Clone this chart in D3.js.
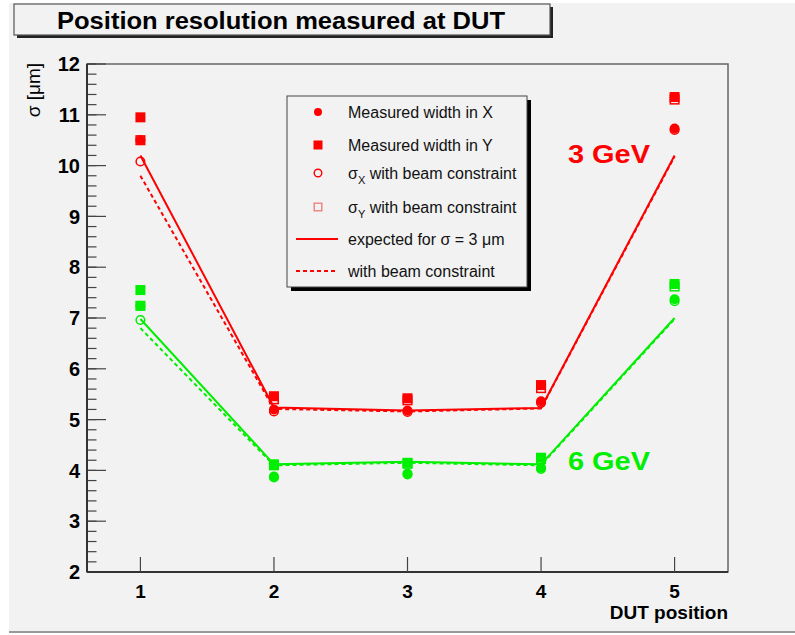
<!DOCTYPE html>
<html><head><meta charset="utf-8">
<script src="https://cdn.jsdelivr.net/npm/d3@7"></script>
<style>body{margin:0;background:#fff}svg{display:block}text{font-family:"Liberation Sans",Arial,sans-serif}</style>
</head><body>
<svg id="c" width="795" height="635"></svg>
<script>
const positions = [1, 2, 3, 4, 5];
const yTicks = [2, 3, 4, 5, 6, 7, 8, 9, 10, 11, 12];
// 3 GeV (red)
const red_measX = [10.5, 5.2, 5.18, 5.36, 10.73];
const red_measY = [10.95, 5.46, 5.42, 5.68, 11.35];
const red_beamX = [10.08, 5.16, 5.15, 5.33, 10.7];
const red_beamY = [10.5, 5.4, 5.38, 5.62, 11.3];
const red_expected = [10.2, 5.24, 5.18, 5.23, 10.2];
const red_expectedBeam = [9.8, 5.21, 5.16, 5.22, 10.18];
// 6 GeV (green)
const green_measX = [7.24, 3.88, 3.94, 4.05, 7.37];
const green_measY = [7.55, 4.12, 4.15, 4.25, 7.67];
const green_beamX = [6.96, 3.86, 3.92, 4.03, 7.33];
const green_beamY = [7.24, 4.1, 4.13, 4.22, 7.62];
const green_expected = [6.98, 4.12, 4.17, 4.12, 7.0];
const green_expectedBeam = [6.8, 4.1, 4.15, 4.1, 6.98];

const RED = "#ff0000", GREEN = "#00ee00";
const svg = d3.select("#c");
const bg = "#f2f2f2";
// canvas
svg.append("rect").attr("x", 9).attr("y", 3).attr("width", 786).attr("height", 629).attr("fill", bg);
svg.append("line").attr("x1", 9).attr("x2", 795).attr("y1", 632).attr("y2", 632).attr("stroke", "#999").attr("stroke-width", 2);

const x = d3.scaleLinear().domain([0.6, 5.4]).range([87, 728]);
const y = d3.scaleLinear().domain([2, 12]).range([572, 64]);

// frame
svg.append("rect").attr("x", x.range()[0]).attr("y", y.range()[1])
  .attr("width", x.range()[1] - x.range()[0]).attr("height", y.range()[0] - y.range()[1])
  .attr("fill", "none").attr("stroke", "#666").attr("stroke-width", 1.5);

// y axis
const gy = svg.append("g").attr("transform", `translate(${x.range()[0]},0)`);
const minor = d3.range(2, 12.001, 0.2);
gy.selectAll("line.mn").data(minor).join("line").attr("class", "mn")
  .attr("x1", 0).attr("x2", 9.5).attr("y1", d => y(d)).attr("y2", d => y(d))
  .attr("stroke", "#444").attr("stroke-width", 1.2);
gy.selectAll("line.mj").data(yTicks).join("line").attr("class", "mj")
  .attr("x1", 0).attr("x2", 19).attr("y1", d => y(d)).attr("y2", d => y(d))
  .attr("stroke", "#444").attr("stroke-width", 1.2);
gy.append("line").attr("x1", 0).attr("x2", 0).attr("y1", y.range()[0]).attr("y2", y.range()[1]).attr("stroke", "#333").attr("stroke-width", 2);
gy.selectAll("text").data(yTicks).join("text")
  .attr("x", -7).attr("y", d => y(d)).attr("dy", "0.36em").attr("text-anchor", "end")
  .attr("font-weight", "bold").attr("font-size", 20).text(d => d);

// x axis
const gx = svg.append("g").attr("transform", `translate(0,${y.range()[0]})`);
gx.append("line").attr("x1", x.range()[0]).attr("x2", x.range()[1]).attr("y1", 0).attr("y2", 0).attr("stroke", "#333").attr("stroke-width", 2);
gx.selectAll("line.t").data(positions).join("line").attr("class", "t")
  .attr("x1", d => x(d)).attr("x2", d => x(d)).attr("y1", 0).attr("y2", -15)
  .attr("stroke", "#444").attr("stroke-width", 1.2);
gx.selectAll("text").data(positions).join("text")
  .attr("x", d => x(d)).attr("y", 26).attr("text-anchor", "middle")
  .attr("font-weight", "bold").attr("font-size", 19).text(d => d);

svg.append("text").attr("x", 728).attr("y", 619).attr("text-anchor", "end")
  .attr("font-weight", "bold").attr("font-size", 19).text("DUT position");
svg.append("text").attr("transform", "translate(40,63) rotate(-90)").attr("text-anchor", "end")
  .attr("font-size", 19).text("σ [μm]");

// title
svg.append("rect").attr("x", 17).attr("y", 7).attr("width", 536).attr("height", 31).attr("fill", "#222");
svg.append("rect").attr("x", 14).attr("y", 4).attr("width", 536).attr("height", 31).attr("fill", bg).attr("stroke", "#555").attr("stroke-width", 1.2);
svg.append("text").attr("x", 57).attr("y", 29).attr("textLength", 448).attr("lengthAdjust", "spacingAndGlyphs")
  .attr("font-weight", "bold").attr("font-size", 23).text("Position resolution measured at DUT");

// lines
const line = d3.line().x((d, i) => x(positions[i])).y(d => y(d));
function drawLine(vals, color, dash) {
  svg.append("path").attr("d", line(vals)).attr("fill", "none").attr("stroke", color)
    .attr("stroke-width", 2).attr("stroke-dasharray", dash ? "4,3" : null);
}
drawLine(red_expectedBeam, RED, true);
drawLine(red_expected, RED, false);
drawLine(green_expectedBeam, GREEN, true);
drawLine(green_expected, GREEN, false);

function circles(vals, color, filled) {
  svg.append("g").selectAll("circle").data(vals).join("circle")
    .attr("cx", (d, i) => x(positions[i])).attr("cy", d => y(d)).attr("r", filled ? 5 : 4.3)
    .attr("fill", filled ? color : "none").attr("stroke", color).attr("stroke-width", filled ? 0 : 1.5);
}
function squares(vals, color, filled) {
  const s = filled ? 10 : 8.6;
  svg.append("g").selectAll("rect").data(vals).join("rect")
    .attr("x", (d, i) => x(positions[i]) - s / 2).attr("y", d => y(d) - s / 2)
    .attr("width", s).attr("height", s)
    .attr("fill", filled ? color : "none").attr("stroke", color).attr("stroke-width", filled ? 0 : 1.5);
}
circles(red_measX, RED, true); squares(red_measY, RED, true);
circles(red_beamX, RED, false); squares(red_beamY, RED, false);
circles(green_measX, GREEN, true); squares(green_measY, GREEN, true);
circles(green_beamX, GREEN, false); squares(green_beamY, GREEN, false);

// energy labels
svg.append("text").attr("x", 568).attr("y", 163).attr("textLength", 82).attr("lengthAdjust", "spacingAndGlyphs")
  .attr("fill", RED).attr("font-weight", "bold").attr("font-size", 25).text("3 GeV");
svg.append("text").attr("x", 568).attr("y", 470).attr("textLength", 82).attr("lengthAdjust", "spacingAndGlyphs")
  .attr("fill", GREEN).attr("font-weight", "bold").attr("font-size", 25).text("6 GeV");

// legend
const L = { x: 287, y: 96, w: 240, h: 191 };
svg.append("rect").attr("x", L.x + 4).attr("y", L.y + 4).attr("width", L.w).attr("height", L.h).attr("fill", "#000");
svg.append("rect").attr("x", L.x).attr("y", L.y).attr("width", L.w).attr("height", L.h).attr("fill", bg).attr("stroke", "#444").attr("stroke-width", 1);
const ly = [112, 145, 173, 207, 239, 271];
const mx = 318, tx = 348, fs = 16;
const lg = svg.append("g");
lg.append("circle").attr("cx", mx).attr("cy", ly[0]).attr("r", 4).attr("fill", RED);
lg.append("rect").attr("x", mx - 4.5).attr("y", ly[1] - 4.5).attr("width", 9).attr("height", 9).attr("fill", RED);
lg.append("circle").attr("cx", mx).attr("cy", ly[2]).attr("r", 3.8).attr("fill", "none").attr("stroke", RED).attr("stroke-width", 1.4);
lg.append("rect").attr("x", mx - 3.8).attr("y", ly[3] - 3.8).attr("width", 7.6).attr("height", 7.6).attr("fill", "none").attr("stroke", "#f08080").attr("stroke-width", 1.4);
lg.append("line").attr("x1", 296).attr("x2", 338).attr("y1", ly[4]).attr("y2", ly[4]).attr("stroke", RED).attr("stroke-width", 2);
lg.append("line").attr("x1", 296).attr("x2", 338).attr("y1", ly[5]).attr("y2", ly[5]).attr("stroke", RED).attr("stroke-width", 2).attr("stroke-dasharray", "4,3");
const t = (i) => lg.append("text").attr("x", tx).attr("y", ly[i]).attr("dy", "0.36em").attr("font-size", fs).attr("fill", "#111");
t(0).text("Measured width in X");
t(1).text("Measured width in Y");
const t2 = t(2); t2.append("tspan").text("σ"); t2.append("tspan").attr("dy", 5).attr("font-size", 11).text("X"); t2.append("tspan").attr("dy", -5).text(" with beam constraint");
const t3 = t(3); t3.append("tspan").text("σ"); t3.append("tspan").attr("dy", 5).attr("font-size", 11).text("Y"); t3.append("tspan").attr("dy", -5).text(" with beam constraint");
t(4).text("expected for σ = 3 μm");
t(5).text("with beam constraint");
</script>
</body></html>
